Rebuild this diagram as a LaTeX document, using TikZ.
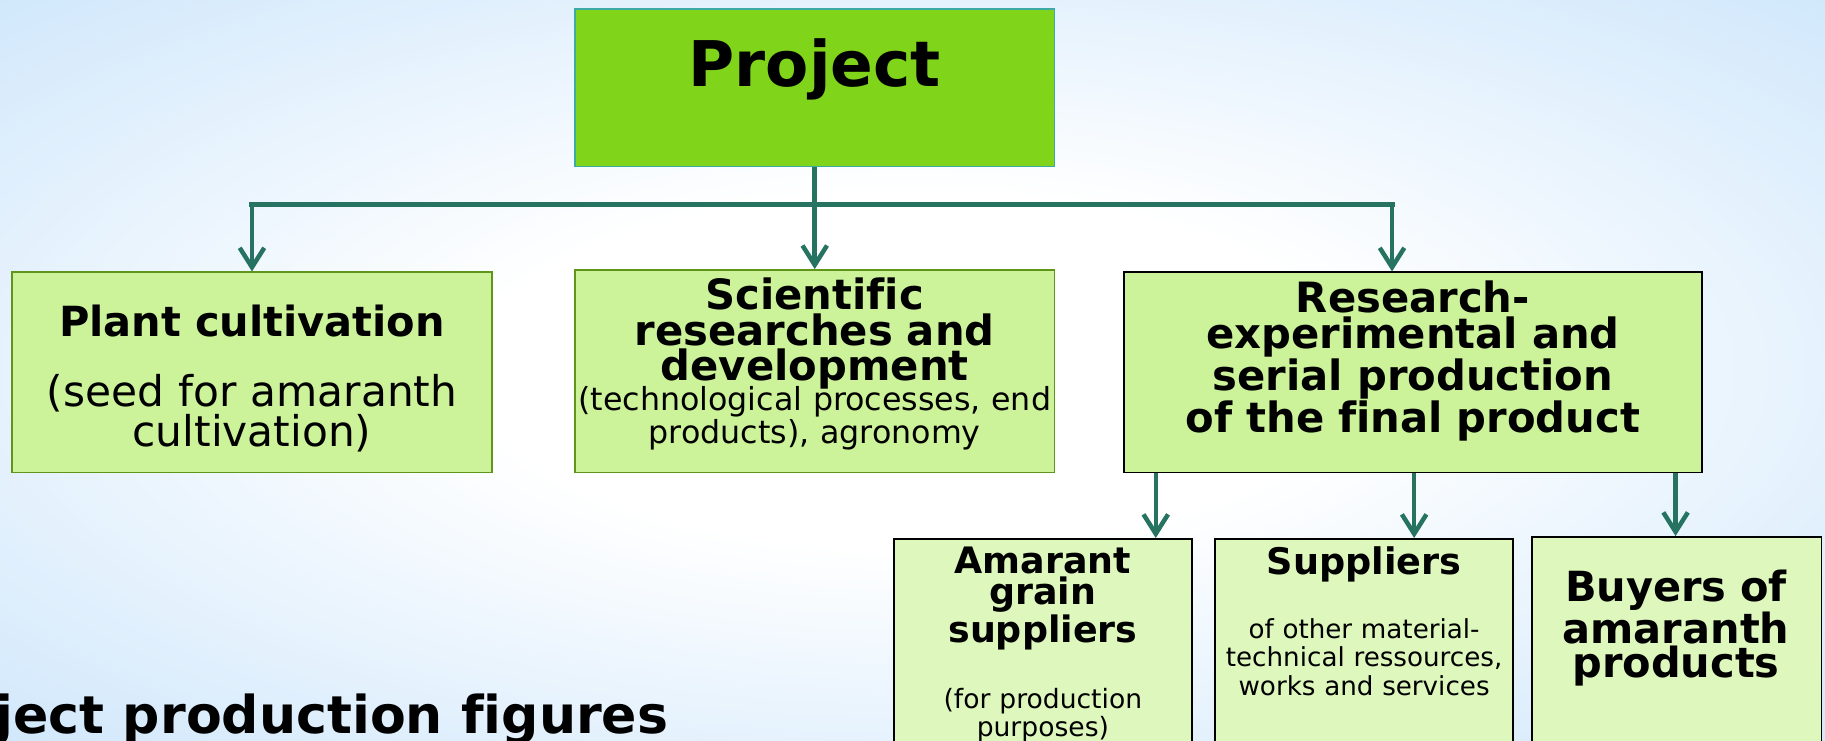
\documentclass[tikz,border=0pt]{standalone}
\usepackage{fontspec}
\setmainfont[Ligatures=NoCommon]{DejaVu Sans}
\usetikzlibrary{arrows.meta}
\definecolor{bgblue}{RGB}{192,223,250}
\definecolor{projgreen}{RGB}{128,212,26}
\definecolor{projedge}{RGB}{60,170,165}
\definecolor{boxgreen}{RGB}{204,242,154}
\definecolor{boxedge}{RGB}{95,150,25}
\definecolor{lowgreen}{RGB}{222,247,188}
\definecolor{linkteal}{RGB}{37,115,96}
\pgfdeclareradialshading{backglow}{\pgfpoint{0bp}{0bp}}{color(0bp)=(white); color(12bp)=(white); color(44bp)=(bgblue); color(50bp)=(bgblue)}
\setlength{\lineskiplimit}{-100pt}
\newcommand{\fsz}[2]{\fontsize{#1pt}{#2pt}\selectfont}
\begin{document}
\begin{tikzpicture}[x=0.02cm,y=-0.02cm,
    box/.style={draw, line width=0.9pt, inner sep=0pt},
    txt/.style={anchor=base, align=center, text width=11cm, inner sep=0pt},
    link/.style={draw=linkteal, line width=2.2pt},
    arr/.style={link, -{Straight Barb[length=9.5pt,width=12pt]}}]
    \useasboundingbox (0,0) rectangle (1568,636);
    \clip (0,0) rectangle (1568,636);
    \shade[shading=backglow] (0,0) rectangle (1568,636);

    \node[box, draw=projedge, fill=projgreen, minimum width=8.24cm, minimum height=2.7cm] (proj) at (700,75.5) {};
    \node[txt, font=\fsz{30.8}{36}\bfseries] (projt) at (700,73.9) {Project};

    \node[box, draw=boxedge, fill=boxgreen, minimum width=8.26cm, minimum height=3.44cm] (plant) at (216.5,320) {};
    \node[txt, font=\fsz{20.3}{17}\bfseries] (plantt) at (216.5,288.7) {Plant cultivation};
    \node[txt, font=\fsz{20.7}{17}] (plantd) at (216.5,349.4) {(seed for amaranth\\cultivation)};

    \node[box, draw=boxedge, fill=boxgreen, minimum width=8.24cm, minimum height=3.48cm] (sci) at (700,319) {};
    \node[txt, font=\fsz{20.4}{17.2}\bfseries] (scit) at (700,266.3) {Scientific\\researches and\\development};
    \node[txt, font=\fsz{15.5}{12.4}] (scid) at (700,352.8) {(technological processes, end\\products), agronomy};

    \node[box, fill=boxgreen, minimum width=9.92cm, minimum height=3.44cm] (serial) at (1214,320) {};
    \node[txt, font=\fsz{20.4}{17.3}\bfseries] (serialt) at (1214,268.6) {Research-\\experimental and\\serial production\\of the final product};

    \node[box, fill=lowgreen, minimum width=5.12cm, minimum height=4.74cm] (grain) at (896,581.5) {};
    \node[txt, font=\fsz{17.8}{15.4}\bfseries] (graint) at (896,492.6) {Amarant\\grain\\suppliers};
    \node[txt, font=\fsz{13}{11.3}] (graind) at (896,608.6) {(for production\\purposes)};

    \node[box, fill=lowgreen, minimum width=5.12cm, minimum height=4.74cm] (supp) at (1172,581.5) {};
    \node[txt, font=\fsz{17.9}{15}\bfseries] (suppt) at (1172,494) {Suppliers};
    \node[txt, font=\fsz{12.8}{14}] (suppd) at (1172,548.4) {of other material-\\technical ressources,\\works and services};

    \node[box, fill=lowgreen, minimum width=4.98cm, minimum height=4.78cm] (buyers) at (1440.5,580.8) {};
    \node[txt, font=\fsz{20.3}{16.4}\bfseries] (buyerst) at (1440,516.4) {Buyers of\\amaranth\\products};

    \node[anchor=base west, inner sep=0pt, font=\fsz{25.5}{30}\bfseries] (figs) at (-4,630) {ject production figures};

    \coordinate (busl) at (216.5,175.5);
    \coordinate (busr) at (1196,175.5);
    \draw[link] (proj.south) -- (proj.south |- busl);
    \draw[link, line width=2.6pt, line cap=rect] (busl) -- (busr);
    \draw[arr] (busl) -- (plant.north);
    \draw[arr] (proj.south |- busl) -- (sci.north);
    \draw[arr] (busr) -- (busr |- serial.north);
    \foreach \x/\n in {993/grain, 1215/supp, 1439.6/buyers}{
        \coordinate (c) at (\x,0);
        \draw[arr] (serial.south -| c) -- (\n.north -| c);
    }
\end{tikzpicture}
\end{document}
